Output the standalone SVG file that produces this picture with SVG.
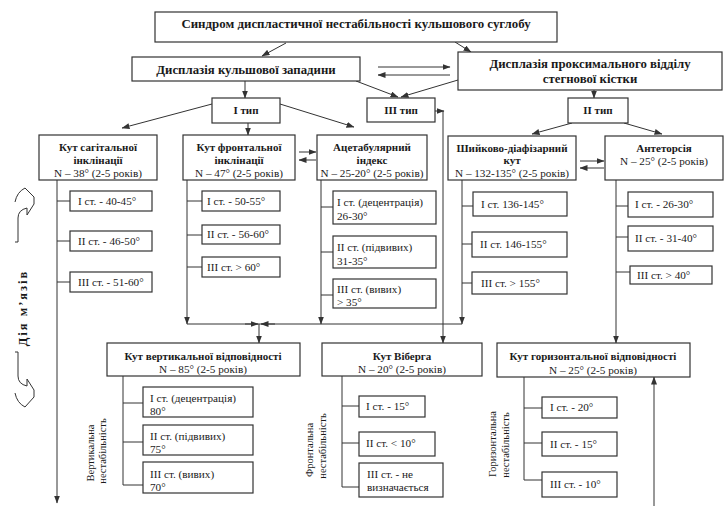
<svg xmlns="http://www.w3.org/2000/svg" width="726" height="506" viewBox="0 0 726 506" font-family="'Liberation Serif', 'Times New Roman', serif">
<style>
  .bx { fill: #fff; stroke: #333; stroke-width: 1.2; }
  .ln { fill: none; stroke: #333; stroke-width: 1; }
  .ar { fill: none; stroke: #333; stroke-width: 1; marker-end: url(#ah); }
  text { font-family: "Liberation Serif", "Times New Roman", serif; fill: #1a1a1a; }
  .h1 { font-size: 12.9px; font-weight: bold; text-anchor: middle; }
  .h2 { font-size: 12.8px; font-weight: bold; text-anchor: middle; }
  .h3 { font-size: 11px; font-weight: bold; text-anchor: middle; }
  .n { font-size: 11.2px; text-anchor: middle; }
  .s { font-size: 11.2px; }
  .v { font-size: 10.5px; text-anchor: middle; }
  .dm { font-size: 12.5px; font-weight: bold; text-anchor: middle; letter-spacing: 2px; }
</style>
<defs>
  <marker id="ah" markerUnits="userSpaceOnUse" markerWidth="8" markerHeight="6" refX="7.5" refY="3" orient="auto">
    <path d="M0,0 L8,3 L0,6 z" fill="#333"/>
  </marker>
</defs>

<g id="connectors">
  <line class="ar" x1="286" y1="43" x2="262" y2="56"/>
  <line class="ar" x1="455" y1="42" x2="471" y2="52"/>
  <line class="ar" x1="245" y1="81" x2="245" y2="98"/>
  <line class="ar" x1="594" y1="90" x2="594" y2="98"/>
  <line class="ar" x1="356" y1="81" x2="398" y2="97"/>
  <line class="ar" x1="458" y1="80" x2="401" y2="97"/>
  <line class="ar" x1="378" y1="67" x2="450" y2="67"/>
  <line class="ar" x1="450" y1="75" x2="378" y2="75"/>
  <line class="ar" x1="212" y1="104" x2="122" y2="128"/>
  <line class="ar" x1="280" y1="104" x2="354" y2="127"/>
  <line class="ar" x1="248" y1="123" x2="248" y2="135"/>
  <line class="ar" x1="435" y1="111" x2="444" y2="111"/>
  <line class="ar" x1="443" y1="111" x2="443" y2="343"/>
  <line class="ar" x1="572" y1="123" x2="532" y2="134"/>
  <line class="ar" x1="624" y1="123" x2="662" y2="134"/>
  <line class="ar" x1="299" y1="152" x2="316" y2="152"/>
  <line class="ar" x1="316" y1="160" x2="299" y2="160"/>
  <line class="ar" x1="580" y1="161" x2="604" y2="161"/>
  <line class="ar" x1="604" y1="168" x2="580" y2="168"/>
  <line class="ar" x1="57" y1="180" x2="57" y2="503"/>
  <line class="ar" x1="187" y1="180" x2="187" y2="324"/>
  <line class="ar" x1="321" y1="180" x2="321" y2="324"/>
  <line class="ar" x1="462" y1="180" x2="462" y2="324"/>
  <line class="ln" x1="187" y1="324" x2="462" y2="324"/>
  <line class="ar" x1="245" y1="324" x2="258" y2="324"/>
  <line class="ar" x1="275" y1="324" x2="261" y2="324"/>
  <line class="ar" x1="259" y1="324" x2="259" y2="343"/>
  <line class="ar" x1="616" y1="180" x2="616" y2="343"/>
  <line class="ar" x1="654" y1="506" x2="654" y2="377"/>
  <path class="ln" d="M57,201 H70 M57,241 H70 M57,282 H70"/>
  <path class="ln" d="M187,201 H202 M187,235 H202 M187,267 H202"/>
  <path class="ln" d="M321,207 H333 M321,252 H333 M321,295 H333"/>
  <path class="ln" d="M462,206 H473 M462,244 H472 M462,283 H472"/>
  <path class="ln" d="M616,206 H628 M616,237 H628 M616,272 H630"/>
  <path class="ln" d="M123,376 V485 M123,403 H143 M123,442 H143 M123,485 H143"/>
  <path class="ln" d="M342,376 V487 M342,406 H359 M342,443 H359 M342,487 H359"/>
  <path class="ln" d="M524,377 V480 M524,408 H542 M524,443 H542 M524,480 H542"/>
</g>

<g id="muscle-action">
  <path class="ln" d="M15,242 H18 V218 Q18,210 27,208 L27,215 L34,204 L34,197 L25,188 Q17,192 15,202"/>
  <path class="ln" d="M15,352 H18 V376 Q18,384 27,386 L27,379 L34,390 L34,397 L25,407 Q17,403 15,393"/>
  <text class="dm" transform="translate(27,308) rotate(-90)">Дія  м’язів</text>
</g>

<g id="n-syndrome">
  <rect class="bx" x="155" y="12" width="402" height="30"/>
  <text class="h1" x="356" y="28">Синдром диспластичної нестабільності кульшового суглобу</text>
</g>
<g id="n-acetabulum">
  <rect class="bx" x="132" y="57" width="228" height="24"/>
  <text class="h2" x="246" y="74">Дисплазія кульшової западини</text>
</g>
<g id="n-femur">
  <rect class="bx" x="458" y="52" width="264" height="38"/>
  <text class="h2" x="590" y="68">Дисплазія проксимального відділу</text>
  <text class="h2" x="590" y="83">стегнової кістки</text>
</g>
<g id="n-type1">
  <rect class="bx" x="212" y="98" width="68" height="25"/>
  <text class="h3" x="246" y="114">I тип</text>
</g>
<g id="n-type3">
  <rect class="bx" x="367" y="98" width="68" height="24"/>
  <text class="h3" x="401" y="114">III тип</text>
</g>
<g id="n-type2">
  <rect class="bx" x="568" y="98" width="60" height="25"/>
  <text class="h3" x="598" y="114">II тип</text>
</g>

<g id="n-sagittal">
  <rect class="bx" x="39" y="135" width="118" height="45"/>
  <text class="h3" x="98" y="151">Кут сагітальної</text>
  <text class="h3" x="98" y="164">інклінації</text>
  <text class="n" x="98" y="177">N – 38° (2-5 років)</text>
  <rect class="bx" x="70" y="191" width="82" height="20"/>
  <text class="s" x="78" y="205">I ст. - 40-45°</text>
  <rect class="bx" x="70" y="231" width="82" height="20"/>
  <text class="s" x="78" y="245">II ст. - 46-50°</text>
  <rect class="bx" x="70" y="272" width="82" height="20"/>
  <text class="s" x="78" y="286">III ст. - 51-60°</text>
</g>

<g id="n-frontal">
  <rect class="bx" x="183" y="135" width="112" height="45"/>
  <text class="h3" x="239" y="151">Кут фронтальної</text>
  <text class="h3" x="239" y="164">інклінації</text>
  <text class="n" x="239" y="177">N – 47° (2-5 років)</text>
  <rect class="bx" x="202" y="191" width="78" height="20"/>
  <text class="s" x="207" y="205">I ст. - 50-55°</text>
  <rect class="bx" x="202" y="225" width="78" height="19"/>
  <text class="s" x="207" y="238">II ст. - 56-60°</text>
  <rect class="bx" x="202" y="257" width="78" height="20"/>
  <text class="s" x="207" y="271">III ст. &gt;  60°</text>
</g>

<g id="n-acetab-index">
  <rect class="bx" x="317" y="135" width="110" height="45"/>
  <text class="h3" x="372" y="151">Ацетабулярний</text>
  <text class="h3" x="372" y="164">індекс</text>
  <text class="n" x="372" y="177">N – 25-20° (2-5 років)</text>
  <rect class="bx" x="333" y="191" width="103" height="33"/>
  <text class="s" x="337" y="206">I ст. (децентрація)</text>
  <text class="s" x="337" y="220">26-30°</text>
  <rect class="bx" x="333" y="236" width="103" height="32"/>
  <text class="s" x="337" y="251">II ст. (підвивих)</text>
  <text class="s" x="337" y="265">31-35°</text>
  <rect class="bx" x="333" y="279" width="103" height="29"/>
  <text class="s" x="337" y="293">III ст. (вивих)</text>
  <text class="s" x="337" y="306">&gt;  35°</text>
</g>

<g id="n-neck-shaft">
  <rect class="bx" x="448" y="136" width="128" height="44"/>
  <text class="h3" x="512" y="152">Шийково-діафізарний</text>
  <text class="h3" x="512" y="164">кут</text>
  <text class="n" x="512" y="177">N – 132-135° (2-5 років)</text>
  <rect class="bx" x="473" y="192" width="94" height="24"/>
  <text class="s" x="481" y="208">I ст. 136-145°</text>
  <rect class="bx" x="472" y="232" width="95" height="25"/>
  <text class="s" x="480" y="248">II ст. 146-155°</text>
  <rect class="bx" x="472" y="272" width="95" height="22"/>
  <text class="s" x="481" y="287">III ст. &gt; 155°</text>
</g>

<g id="n-antetorsion">
  <rect class="bx" x="605" y="136" width="118" height="44"/>
  <text class="h3" x="664" y="152">Антеторсія</text>
  <text class="n" x="664" y="165">N –  25° (2-5 років)</text>
  <rect class="bx" x="628" y="192" width="85" height="25"/>
  <text class="s" x="635" y="208">I ст. - 26-30°</text>
  <rect class="bx" x="628" y="226" width="85" height="25"/>
  <text class="s" x="635" y="242">II ст. - 31-40°</text>
  <rect class="bx" x="630" y="266" width="82" height="18"/>
  <text class="s" x="637" y="279">III ст. &gt; 40°</text>
</g>

<g id="n-vertical">
  <rect class="bx" x="107" y="343" width="193" height="33"/>
  <text class="h3" x="203" y="360">Кут вертикальної відповідності</text>
  <text class="n" x="203" y="373">N – 85° (2-5 років)</text>
  <rect class="bx" x="143" y="387" width="110" height="30"/>
  <text class="s" x="150" y="402">I ст. (децентрація)</text>
  <text class="s" x="150" y="415">80°</text>
  <rect class="bx" x="143" y="425" width="110" height="30"/>
  <text class="s" x="150" y="440">II ст. (підвивих)</text>
  <text class="s" x="150" y="453">75°</text>
  <rect class="bx" x="143" y="462" width="110" height="31"/>
  <text class="s" x="150" y="478">III ст. (вивих)</text>
  <text class="s" x="150" y="491">70°</text>
  <text class="v" transform="translate(94,453) rotate(-90)">Вертикальна</text>
  <text class="v" transform="translate(106,451) rotate(-90)">нестабільність</text>
</g>

<g id="n-wiberg">
  <rect class="bx" x="322" y="343" width="160" height="33"/>
  <text class="h3" x="402" y="360">Кут Віберга</text>
  <text class="n" x="402" y="373">N – 20° (2-5 років)</text>
  <rect class="bx" x="359" y="396" width="66" height="21"/>
  <text class="s" x="366" y="410">I ст. - 15°</text>
  <rect class="bx" x="359" y="432" width="76" height="24"/>
  <text class="s" x="366" y="447">II ст. &lt; 10°</text>
  <rect class="bx" x="359" y="463" width="84" height="34"/>
  <text class="s" x="367" y="478">III ст. - не</text>
  <text class="s" x="367" y="491">визначається</text>
  <text class="v" transform="translate(313,450) rotate(-90)">Фронтальна</text>
  <text class="v" transform="translate(326,446) rotate(-90)">нестабільність</text>
</g>

<g id="n-horizontal">
  <rect class="bx" x="497" y="343" width="193" height="34"/>
  <text class="h3" x="593" y="360">Кут горизонтальної відповідності</text>
  <text class="n" x="593" y="374">N –  25° (2-5 років)</text>
  <rect class="bx" x="542" y="397" width="75" height="21"/>
  <text class="s" x="550" y="411">I ст. - 20°</text>
  <rect class="bx" x="542" y="432" width="75" height="24"/>
  <text class="s" x="550" y="448">II ст. - 15°</text>
  <rect class="bx" x="542" y="472" width="75" height="25"/>
  <text class="s" x="550" y="488">III ст. - 10°</text>
  <text class="v" transform="translate(496,444) rotate(-90)">Горизонтальна</text>
  <text class="v" transform="translate(509,445) rotate(-90)">нестабільність</text>
</g>
</svg>
